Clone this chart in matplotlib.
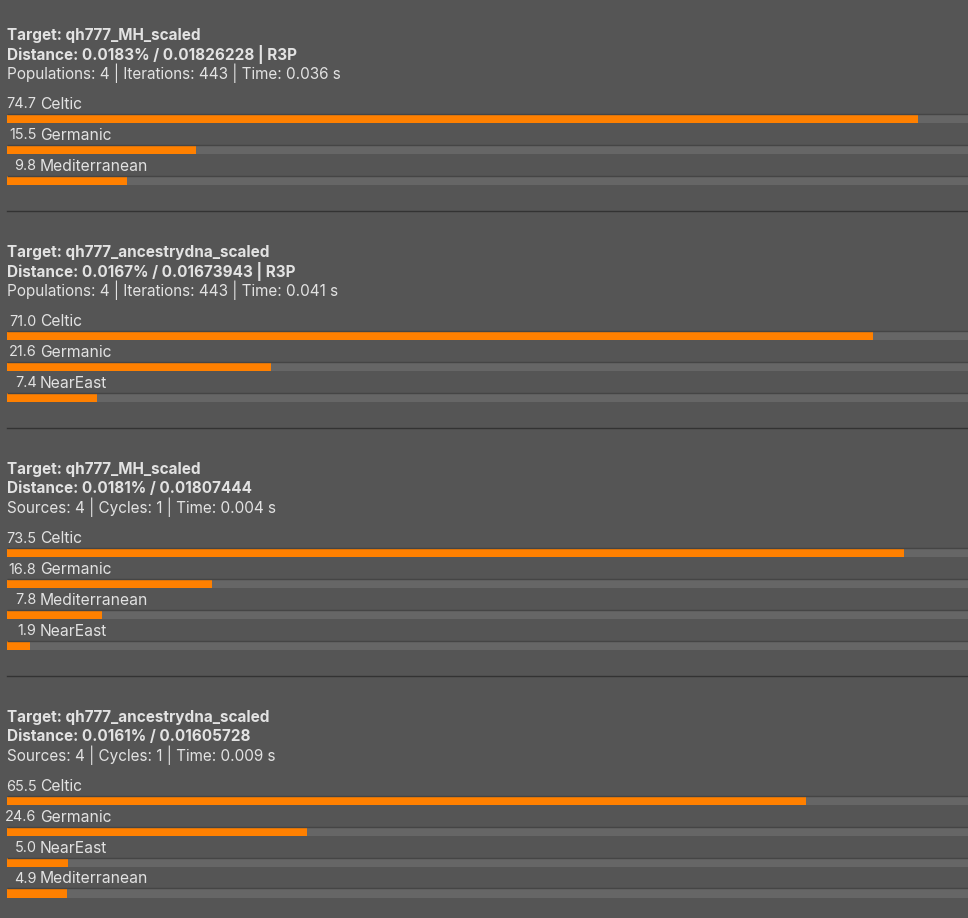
import matplotlib.pyplot as plt

# results of the four runs
targets = ["qh777_MH_scaled", "qh777_ancestrydna_scaled",
           "qh777_MH_scaled", "qh777_ancestrydna_scaled"]
distances = ["0.0183% / 0.01826228 | R3P", "0.0167% / 0.01673943 | R3P",
             "0.0181% / 0.01807444", "0.0161% / 0.01605728"]
infos = ["Populations: 4 | Iterations: 443 | Time: 0.036 s",
         "Populations: 4 | Iterations: 443 | Time: 0.041 s",
         "Sources: 4 | Cycles: 1 | Time: 0.004 s",
         "Sources: 4 | Cycles: 1 | Time: 0.009 s"]
names = [["Celtic", "Germanic", "Mediterranean"],
         ["Celtic", "Germanic", "NearEast"],
         ["Celtic", "Germanic", "Mediterranean", "NearEast"],
         ["Celtic", "Germanic", "NearEast", "Mediterranean"]]
values = [[74.7, 15.5, 9.8],
          [71.0, 21.6, 7.4],
          [73.5, 16.8, 7.8, 1.9],
          [65.5, 24.6, 5.0, 4.9]]

W, H = 968, 918
BG = "#555555"
TRACK = "#666666"
ORANGE = "#ff8000"
TXT = "#e2e2e2"
FONT = ["Inter", "DejaVu Sans"]

scale = 12.2      # pixels per percent
left = 7          # left edge of bars in pixels

def px(x):
    return (x - left) / scale

fig = plt.figure(figsize=(W / 100, H / 100), dpi=100, facecolor=BG)
ax = fig.add_axes([0, 0, 1, 1])
ax.set_facecolor(BG)
ax.set_xlim(px(0), px(W))
ax.set_ylim(H, 0)
ax.axis("off")

y = 35.5
for b in range(len(targets)):
    ax.text(px(left), y, "Target: " + targets[b], color=TXT, fontsize=11,
            fontweight="bold", va="center", ha="left", family=FONT)
    ax.text(px(left), y + 18.5, "Distance: " + distances[b], color=TXT, fontsize=11,
            fontweight="bold", va="center", ha="left", family=FONT)
    ax.text(px(left), y + 37.5, infos[b], color=TXT, fontsize=11,
            va="center", ha="left", family=FONT)
    ly = y + 69
    for i in range(len(values[b])):
        v = values[b][i]
        ax.text(px(36.5), ly, "%.1f" % v, color=TXT, fontsize=10.4,
                va="center", ha="right", family=FONT)
        ax.text(px(40), ly, names[b][i], color=TXT, fontsize=11.3,
                va="center", ha="left", family=FONT)
        by = ly + 14.5
        ax.barh(by, 100, height=8.5, left=0, color=TRACK, linewidth=0)
        ax.plot([0, 100], [by - 5, by - 5], color="#454545", lw=1.0,
                solid_capstyle="butt")
        ax.barh(by, v, height=8.5, left=0, color=ORANGE, linewidth=0)
        last = by
        ly += 30.8
    if b < len(targets) - 1:
        sep = last + 30
        ax.plot([px(left), px(W)], [sep, sep], color="#333333", lw=1.0)
        y = sep + 42

fig.savefig("out.png", dpi=100, facecolor=BG)
